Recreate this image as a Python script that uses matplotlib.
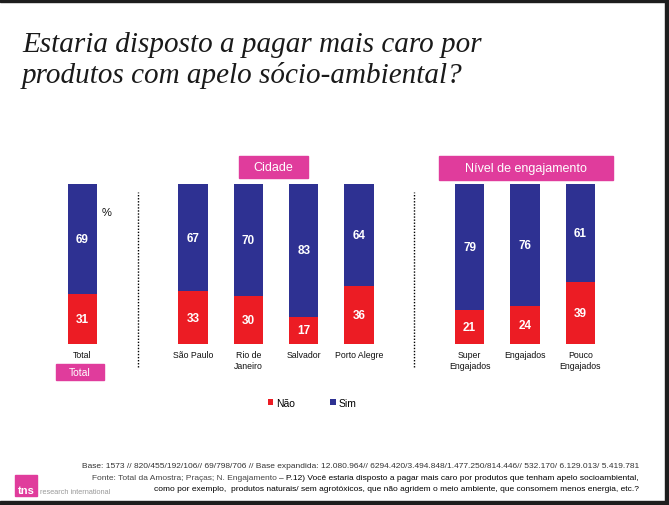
import matplotlib
matplotlib.use('Agg')
import matplotlib.pyplot as plt
from matplotlib.patches import Rectangle

# dados
grupos = ['Total', 'Cidade', 'Nível de engajamento']
categorias = [['Total'],
              ['São Paulo', 'Rio de\nJaneiro', 'Salvador', 'Porto Alegre'],
              ['Super\nEngajados', 'Engajados', 'Pouco\nEngajados']]
nao = [31, 33, 30, 17, 36, 21, 24, 39]
sim = [69, 67, 70, 83, 64, 79, 76, 61]
series = ['Não', 'Sim']

vermelho = '#ec1c24'
azul = '#2e3192'
rosa = '#e03c9c'

W, H = 669, 506
fig = plt.figure(figsize=(W / 100, H / 100), dpi=100)

def px(x, y):
    # pixel (a partir do topo) -> coordenadas da figura
    return x / W, 1 - y / H

# posicoes das barras: um espaco vazio entre os grupos
pos = []
limites = []
x = 0
for i, cats in enumerate(categorias):
    ini = x
    for c in cats:
        pos.append(x)
        x += 1
    limites.append((ini, x - 1))
    x += 1
labels = [c for cats in categorias for c in cats]

ax = fig.add_axes([0, 0, 1, 1])
ax.set_xlim(-1.492, 10.606)
ax.set_ylim(-100.625, 215.625)
ax.axis('off')

b1 = ax.bar(pos, nao, width=0.53, color=vermelho, label=series[0])
b2 = ax.bar(pos, sim, width=0.53, bottom=nao, color=azul, label=series[1])

for p, n, s, lab in zip(pos, nao, sim, labels):
    ax.text(p, n / 2, str(n), ha='center', va='center', color='white',
            fontsize=8.5, fontweight='bold', family='Liberation Sans')
    ax.text(p, n + s / 2, str(s), ha='center', va='center', color='white',
            fontsize=8.5, fontweight='bold', family='Liberation Sans')
    ax.text(p, -4, lab, ha='center', va='top', fontsize=6.3,
            family='Liberation Sans', linespacing=1.25, color='#111111')

ax.text(0.44, 82.5, '%', ha='center', va='center', fontsize=8,
        family='Liberation Sans', color='#111111')

# linhas pontilhadas entre os grupos
for (a, b), (c, d) in zip(limites[:-1], limites[1:]):
    xm = (b + c) / 2
    ax.plot([xm, xm], [-14.4, 95], color='black', linestyle=(0, (1, 1.2)), linewidth=1)

# caixas rosa dos grupos
caixas = [(56, 365, 48, 16, 7.5, 'Total'),
          (239, 157, 69, 22, 9, 'Cidade'),
          (439, 157, 174, 24, 9, 'Nível de engajamento')]
for x0, y0, w, h, fs, _ in caixas:
    fig.patches.append(Rectangle(px(x0, y0 + h), w / W, h / H, color=rosa,
                                 transform=fig.transFigure))
for (x0, y0, w, h, fs, _), g in zip(caixas, grupos):
    fig.text(*px(x0 + w / 2, y0 + h / 2 + 0.5), g, ha='center', va='center',
             color='white', fontsize=fs, family='Liberation Sans')

# titulo
fig.text(*px(22, 52), 'Estaria disposto a pagar mais caro por', fontsize=21,
         style='italic', family='Liberation Serif', va='baseline', color='#1a1a1a')
fig.text(*px(22, 83), 'produtos com apelo sócio-ambiental?', fontsize=21,
         style='italic', family='Liberation Serif', va='baseline', color='#1a1a1a')

# legenda
leg = ax.legend(handles=[b1, b2], loc='center', bbox_to_anchor=px(312, 404), ncol=2,
                frameon=False, prop={'family': 'Liberation Sans', 'size': 7.5},
                handlelength=0.55, handleheight=0.55, handletextpad=0.25,
                columnspacing=3.4)

# rodape
rod = dict(fontsize=6.0, family='Liberation Sans', ha='right')
fig.text(*px(639, 468), 'Base: 1573 // 820/455/192/106// 69/798/706 // Base expandida: '
         '12.080.964// 6294.420/3.494.848/1.477.250/814.446// 532.170/ 6.129.013/ 5.419.781',
         color='#333333', **rod)
t2 = fig.text(*px(639, 480), '– P.12) Você estaria disposto a pagar mais caro por produtos '
              'que tenham apelo socioambiental,', color='#000000', **rod)
ax.annotate('Fonte: Total da Amostra; Praças; N. Engajamento ', xy=(0, 0),
            xycoords=t2, va='bottom', color='#444444', **rod)
fig.text(*px(639, 491), 'como por exemplo,  produtos naturais/ sem agrotóxicos, que não '
         'agridem o meio ambiente, que consomem menos energia, etc.?',
         color='#000000', **rod)

# logo
fig.patches.append(Rectangle(px(15, 497), 22 / W, 21 / H, color=rosa,
                             transform=fig.transFigure))
fig.text(*px(26, 494), 'tns', ha='center', va='baseline', color='white',
         fontsize=8, fontweight='bold', family='Liberation Sans')
fig.text(*px(40, 494), 'research international', ha='left', va='baseline',
         color='#9a9a9a', fontsize=5.3, family='Liberation Sans')

# moldura escura
borda = '#1e1e1e'
for x0, y0, w, h in [(0, 0, W, 3), (665, 0, 4, H), (0, 502, W, 4)]:
    fig.patches.append(Rectangle(px(x0, y0 + h), w / W, h / H, color=borda,
                                 transform=fig.transFigure))

fig.savefig('out.png', dpi=100)
